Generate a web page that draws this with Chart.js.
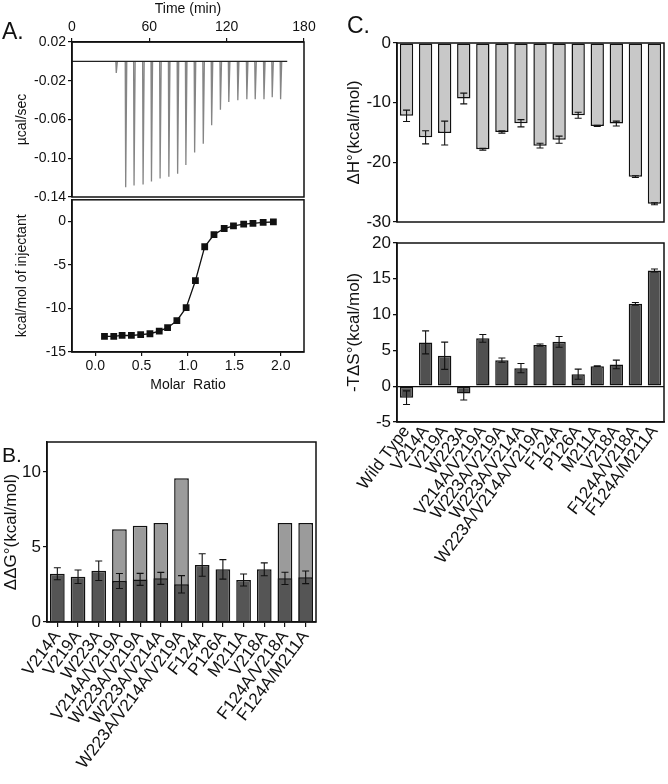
<!DOCTYPE html>
<html><head><meta charset="utf-8">
<script src="https://cdn.jsdelivr.net/npm/chart.js@4"></script>
<style>
body{margin:0;background:#fff;}
#wrap{position:relative;width:668px;height:784px;overflow:hidden;background:#fff;font-family:"Liberation Sans",Arial,Helvetica,sans-serif;}
canvas{position:absolute;}
.lbl{position:absolute;color:#111;line-height:1;white-space:nowrap;}
</style></head><body>
<div id="wrap">
<canvas id="a1" width="330" height="212" style="left:0;top:0"></canvas>
<canvas id="a2" width="330" height="205" style="left:0;top:195px"></canvas>
<canvas id="b" width="330" height="384" style="left:0;top:400px"></canvas>
<canvas id="c1" width="338" height="232" style="left:330px;top:0"></canvas>
<canvas id="c2" width="338" height="552" style="left:330px;top:232px"></canvas>
<div class="lbl" style="left:2px;top:20px;font-size:23px">A.</div>
<div class="lbl" style="left:2px;top:444px;font-size:21px">B.</div>
<div class="lbl" style="left:347px;top:14px;font-size:23px">C.</div>
</div>
<script>
// ---------- Panel A (ITC) ----------
const timeTicks = [0, 60, 120, 180];
const powerTicks = [0.02, -0.02, -0.06, -0.10, -0.14];
const injTimes = [34, 41.3, 47.8, 54.8, 61.3, 68.0, 74.8, 81.6, 88.0, 94.8, 101.5, 108.0, 114.8, 121.3, 128.3, 135.3, 141.8, 148.6, 155.0, 161.5];
const injPeaks = [-0.012, -0.130, -0.128, -0.127, -0.124, -0.121, -0.119, -0.116, -0.107, -0.094, -0.085, -0.066, -0.050, -0.042, -0.040, -0.039, -0.039, -0.039, -0.037, -0.039];
const traceStart = 0, traceEnd = 167, baselinePower = 0;

const molarRatio = [0.10, 0.20, 0.29, 0.39, 0.49, 0.59, 0.69, 0.78, 0.88, 0.98, 1.08, 1.18, 1.28, 1.39, 1.49, 1.60, 1.70, 1.81, 1.92];
const heatPerInj = [-13.2, -13.2, -13.1, -13.1, -13.0, -12.9, -12.6, -12.2, -11.4, -9.9, -6.8, -2.9, -1.5, -0.8, -0.5, -0.3, -0.2, -0.1, -0.05];
const ratioTicks = [0, 0.5, 1.0, 1.5, 2.0];
const heatTicks = [0, -5, -10, -15];

// ---------- Panel B ----------
const mutantsB = ['V214A','V219A','W223A','V214A/V219A','W223A/V219A','W223A/V214A','W223A/V214A/V219A','F124A','P126A','M211A','V218A','F124A/V218A','F124A/M211A'];
const ddgMeasured = [3.22, 3.02, 3.42, 2.73, 2.84, 2.91, 2.51, 3.80, 3.51, 2.80, 3.51, 2.91, 2.98];
const ddgMeasuredErr = [0.40, 0.45, 0.65, 0.50, 0.40, 0.40, 0.58, 0.75, 0.65, 0.40, 0.43, 0.41, 0.42];
const ddgAdditive = [null, null, null, 6.18, 6.42, 6.60, 9.58, null, null, null, null, 6.60, 6.60];
const ddgTicks = [0, 5, 10];

// ---------- Panel C ----------
const mutantsC = ['Wild Type','V214A','V219A','W223A','V214A/V219A','W223A/V219A','W223A/V214A','W223A/V214A/V219A','F124A','P126A','M211A','V218A','F124A/V218A','F124A/M211A'];
const dH = [-12.2, -15.8, -15.1, -9.3, -17.8, -14.9, -13.45, -17.2, -16.2, -12.1, -13.9, -13.5, -22.4, -26.95];
const dHErr = [0.95, 1.1, 2.0, 0.9, 0.15, 0.2, 0.6, 0.4, 0.6, 0.5, 0.1, 0.4, 0.15, 0.15];
const mTdS = [-1.6, 6.12, 4.25, -1.03, 6.68, 3.64, 2.52, 5.75, 6.2, 1.68, 2.8, 3.04, 11.5, 16.17];
const mTdSErr = [0.95, 1.6, 1.9, 0.9, 0.55, 0.3, 0.65, 0.15, 0.75, 0.7, 0.05, 0.6, 0.2, 0.2];
const dHTicks = [0, -10, -20, -30];
const tdsTicks = [20, 15, 10, 5, 0, -5];

// ---------- helpers ----------
const F = '"Liberation Sans", Arial, Helvetica, sans-serif';
const INK = '#111';
const ROT = 53;
Chart.defaults.font.family = F;
Chart.defaults.color = INK;

const framePlugin = {
  id: 'frame',
  afterDatasetsDraw(chart) {
    const {ctx, chartArea: a} = chart;
    ctx.save();
    ctx.strokeStyle = INK; ctx.lineWidth = 1.5;
    ctx.strokeRect(a.left, a.top, a.right - a.left, a.bottom - a.top);
    ctx.restore();
  }
};
const errPlugin = {
  id: 'errbars',
  afterDatasetsDraw(chart) {
    const ctx = chart.ctx, ys = chart.scales.y;
    chart.data.datasets.forEach((ds, i) => {
      if (!ds.errors) return;
      const meta = chart.getDatasetMeta(i);
      meta.data.forEach((bar, j) => {
        const v = ds.data[j], e = ds.errors[j];
        if (v == null || !e) return;
        const x = bar.x, y1 = ys.getPixelForValue(v + e), y2 = ys.getPixelForValue(v - e);
        ctx.save();
        ctx.strokeStyle = INK; ctx.lineWidth = 1.1;
        ctx.beginPath();
        ctx.moveTo(x, y1); ctx.lineTo(x, y2);
        ctx.moveTo(x - 3.5, y1); ctx.lineTo(x + 3.5, y1);
        ctx.moveTo(x - 3.5, y2); ctx.lineTo(x + 3.5, y2);
        ctx.stroke();
        ctx.restore();
      });
    });
  }
};
const fixedTicks = arr => s => { s.ticks = arr.map(v => ({value: v})); };
const fitW = w => s => { s.width = w; s.paddingTop = 0; s.paddingBottom = 0; };
const fitH = h => s => { s.height = h; s.paddingLeft = 0; s.paddingRight = 0; };
const base = {
  responsive: false, animation: false, events: [],
  plugins: {legend: {display: false}, tooltip: {enabled: false}}
};
const axisGrid = {display: true, drawOnChartArea: false, tickLength: 4, color: INK, lineWidth: 1.2};
const axisBorder = {display: true, color: INK, width: 1.5};

// ---------- A1: raw thermogram ----------
const baselineData = [{x: traceStart, y: baselinePower}, {x: traceEnd, y: baselinePower}];
const spikeData = [];
injTimes.forEach((t, i) => {
  spikeData.push({x: t, y: baselinePower}, {x: t + 0.35, y: injPeaks[i]}, {x: t + 1.2, y: baselinePower}, {x: t + 1.25, y: null});
});
new Chart(document.getElementById('a1'), {
  type: 'line',
  data: {datasets: [
    {data: baselineData, borderColor: '#222', borderWidth: 1.3, pointRadius: 0, order: 1},
    {data: spikeData, borderColor: '#858585', borderWidth: 1.3, pointRadius: 0, spanGaps: false, order: 2}
  ]},
  options: Object.assign({}, base, {
    layout: {padding: {left: 0, right: 26, top: 0, bottom: 15}},
    scales: {
      x: {type: 'linear', position: 'top', min: 0, max: 180, afterBuildTicks: fixedTicks(timeTicks),
          ticks: {font: {size: 14}, padding: 2, maxRotation: 0},
          grid: axisGrid, border: axisBorder,
          title: {display: true, text: 'Time (min)', font: {size: 14}, padding: {top: 1, bottom: 0}},
          afterFit: fitH(42)},
      y: {min: -0.14, max: 0.02, afterBuildTicks: fixedTicks(powerTicks),
          ticks: {font: {size: 14}, padding: 2, callback: v => v.toFixed(2)},
          grid: axisGrid, border: axisBorder,
          title: {display: true, text: 'µcal/sec', font: {size: 14}, padding: {top: 14, bottom: 0}},
          afterFit: fitW(72)}
    }
  }),
  plugins: [framePlugin]
});

// ---------- A2: binding isotherm ----------
new Chart(document.getElementById('a2'), {
  type: 'line',
  data: {datasets: [{
    data: molarRatio.map((x, i) => ({x: x, y: heatPerInj[i]})),
    borderColor: INK, borderWidth: 1.3, tension: 0,
    pointStyle: 'rect', pointRadius: 4.8, pointBackgroundColor: INK, pointBorderWidth: 0
  }]},
  options: Object.assign({}, base, {
    layout: {padding: {left: 0, right: 26, top: 2, bottom: 0}},
    scales: {
      x: {type: 'linear', min: -0.25, max: 2.25, afterBuildTicks: fixedTicks(ratioTicks),
          ticks: {font: {size: 14}, padding: 2, maxRotation: 0, callback: v => v.toFixed(1)},
          grid: axisGrid, border: axisBorder,
          title: {display: true, text: 'Molar  Ratio', font: {size: 14}, padding: {top: 4, bottom: 6}},
          afterFit: fitH(48)},
      y: {min: -15, max: 2.5, afterBuildTicks: fixedTicks(heatTicks),
          ticks: {font: {size: 14}, padding: 2},
          grid: axisGrid, border: axisBorder,
          title: {display: true, text: 'kcal/mol of injectant', font: {size: 14}, padding: {top: 14, bottom: 0}},
          afterFit: fitW(72)}
    }
  }),
  plugins: [framePlugin]
});

// ---------- B: ddG ----------
const catGrid = {display: true, drawOnChartArea: false, offset: false, tickLength: 5, color: INK, lineWidth: 1.2};
new Chart(document.getElementById('b'), {
  type: 'bar',
  data: {labels: mutantsB, datasets: [
    {data: ddgMeasured, errors: ddgMeasuredErr, backgroundColor: '#555555', borderColor: INK, borderWidth: 1.5,
     grouped: false, barPercentage: 0.71, categoryPercentage: 1, order: 1},
    {data: ddgAdditive, backgroundColor: '#9b9b9b', borderColor: INK, borderWidth: 1.5,
     grouped: false, barPercentage: 0.71, categoryPercentage: 1, order: 2}
  ]},
  options: Object.assign({}, base, {
    layout: {padding: {left: 0, right: 14, top: 42, bottom: 0}},
    scales: {
      x: {ticks: {font: {size: 17}, minRotation: ROT, maxRotation: ROT, autoSkip: false, padding: 0},
          grid: catGrid, border: axisBorder, afterFit: fitH(162)},
      y: {min: 0, max: 12, afterBuildTicks: fixedTicks(ddgTicks),
          ticks: {font: {size: 17}, padding: 2},
          grid: axisGrid, border: axisBorder,
          title: {display: true, text: 'ΔΔG°(kcal/mol)', font: {size: 17}, padding: {top: 1, bottom: 0}},
          afterFit: fitW(47)}
    }
  }),
  plugins: [framePlugin, errPlugin]
});

// ---------- C1: dH ----------
new Chart(document.getElementById('c1'), {
  type: 'bar',
  data: {labels: mutantsC, datasets: [
    {data: dH, errors: dHErr, backgroundColor: '#c8c8c8', borderColor: INK, borderWidth: 1.5,
     barPercentage: 0.7, categoryPercentage: 1, borderSkipped: false}
  ]},
  options: Object.assign({}, base, {
    layout: {padding: {left: 0, right: 4, top: 43, bottom: 10}},
    scales: {
      x: {display: false},
      y: {min: -30, max: 0, afterBuildTicks: fixedTicks(dHTicks),
          ticks: {font: {size: 17}, padding: 2},
          grid: axisGrid, border: axisBorder,
          title: {display: true, text: 'ΔH°(kcal/mol)', font: {size: 17}, padding: {top: 14, bottom: 0}},
          afterFit: fitW(67)}
    }
  }),
  plugins: [framePlugin, errPlugin]
});

// ---------- C2: -TdS ----------
new Chart(document.getElementById('c2'), {
  type: 'bar',
  data: {labels: mutantsC, datasets: [
    {data: mTdS, errors: mTdSErr, backgroundColor: '#505050', borderColor: INK, borderWidth: 1.5,
     barPercentage: 0.7, categoryPercentage: 1, borderSkipped: false}
  ]},
  options: Object.assign({}, base, {
    layout: {padding: {left: 0, right: 4, top: 11, bottom: 0}},
    scales: {
      x: {ticks: {font: {size: 17}, minRotation: ROT, maxRotation: ROT, autoSkip: false, padding: 0},
          grid: {display: true, drawOnChartArea: false, drawTicks: false, color: INK},
          border: axisBorder, afterFit: fitH(362)},
      y: {min: -5, max: 20, afterBuildTicks: fixedTicks(tdsTicks),
          ticks: {font: {size: 17}, padding: 2},
          grid: {display: true, drawOnChartArea: true, tickLength: 4, lineWidth: 1.3,
                 color: c => (c.tick && c.tick.value === 0) ? INK : 'rgba(0,0,0,0)', tickColor: INK},
          border: axisBorder,
          title: {display: true, text: '-TΔS°(kcal/mol)', font: {size: 17}, padding: {top: 14, bottom: 0}},
          afterFit: fitW(67)}
    }
  }),
  plugins: [framePlugin, errPlugin]
});
</script>
</body></html>
